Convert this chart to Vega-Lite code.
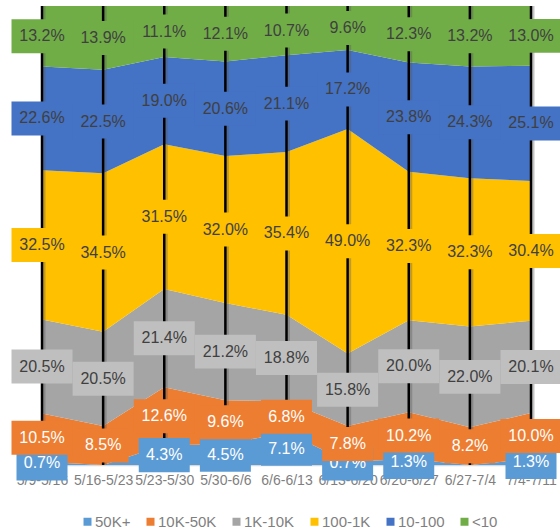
{
  "$schema": "https://vega.github.io/schema/vega-lite/v6.json",
  "autosize": "none",
  "padding": {"left": 42, "top": 6, "right": 29, "bottom": 65},
  "width": 489,
  "height": 459,
  "config": {
    "font": "Liberation Sans",
    "view": {"stroke": null},
    "axis": {"grid": false}
  },
  "data": {
    "values": [
      {"w": "5/9-5/16", "s": "50K+", "v": 0.007}, {"w": "5/9-5/16", "s": "10K-50K", "v": 0.105}, {"w": "5/9-5/16", "s": "1K-10K", "v": 0.205}, {"w": "5/9-5/16", "s": "100-1K", "v": 0.325}, {"w": "5/9-5/16", "s": "10-100", "v": 0.226}, {"w": "5/9-5/16", "s": "<10", "v": 0.132},
      {"w": "5/16-5/23", "s": "50K+", "v": 0}, {"w": "5/16-5/23", "s": "10K-50K", "v": 0.085}, {"w": "5/16-5/23", "s": "1K-10K", "v": 0.205}, {"w": "5/16-5/23", "s": "100-1K", "v": 0.345}, {"w": "5/16-5/23", "s": "10-100", "v": 0.225}, {"w": "5/16-5/23", "s": "<10", "v": 0.139},
      {"w": "5/23-5/30", "s": "50K+", "v": 0.043}, {"w": "5/23-5/30", "s": "10K-50K", "v": 0.126}, {"w": "5/23-5/30", "s": "1K-10K", "v": 0.214}, {"w": "5/23-5/30", "s": "100-1K", "v": 0.315}, {"w": "5/23-5/30", "s": "10-100", "v": 0.19}, {"w": "5/23-5/30", "s": "<10", "v": 0.111},
      {"w": "5/30-6/6", "s": "50K+", "v": 0.045}, {"w": "5/30-6/6", "s": "10K-50K", "v": 0.096}, {"w": "5/30-6/6", "s": "1K-10K", "v": 0.212}, {"w": "5/30-6/6", "s": "100-1K", "v": 0.32}, {"w": "5/30-6/6", "s": "10-100", "v": 0.206}, {"w": "5/30-6/6", "s": "<10", "v": 0.121},
      {"w": "6/6-6/13", "s": "50K+", "v": 0.071}, {"w": "6/6-6/13", "s": "10K-50K", "v": 0.068}, {"w": "6/6-6/13", "s": "1K-10K", "v": 0.188}, {"w": "6/6-6/13", "s": "100-1K", "v": 0.354}, {"w": "6/6-6/13", "s": "10-100", "v": 0.211}, {"w": "6/6-6/13", "s": "<10", "v": 0.107},
      {"w": "6/13-6/20", "s": "50K+", "v": 0.007}, {"w": "6/13-6/20", "s": "10K-50K", "v": 0.078}, {"w": "6/13-6/20", "s": "1K-10K", "v": 0.158}, {"w": "6/13-6/20", "s": "100-1K", "v": 0.49}, {"w": "6/13-6/20", "s": "10-100", "v": 0.172}, {"w": "6/13-6/20", "s": "<10", "v": 0.096},
      {"w": "6/20-6/27", "s": "50K+", "v": 0.013}, {"w": "6/20-6/27", "s": "10K-50K", "v": 0.102}, {"w": "6/20-6/27", "s": "1K-10K", "v": 0.2}, {"w": "6/20-6/27", "s": "100-1K", "v": 0.323}, {"w": "6/20-6/27", "s": "10-100", "v": 0.238}, {"w": "6/20-6/27", "s": "<10", "v": 0.123},
      {"w": "6/27-7/4", "s": "50K+", "v": 0}, {"w": "6/27-7/4", "s": "10K-50K", "v": 0.082}, {"w": "6/27-7/4", "s": "1K-10K", "v": 0.22}, {"w": "6/27-7/4", "s": "100-1K", "v": 0.323}, {"w": "6/27-7/4", "s": "10-100", "v": 0.243}, {"w": "6/27-7/4", "s": "<10", "v": 0.132},
      {"w": "7/4-7/11", "s": "50K+", "v": 0.013}, {"w": "7/4-7/11", "s": "10K-50K", "v": 0.1}, {"w": "7/4-7/11", "s": "1K-10K", "v": 0.201}, {"w": "7/4-7/11", "s": "100-1K", "v": 0.304}, {"w": "7/4-7/11", "s": "10-100", "v": 0.251}, {"w": "7/4-7/11", "s": "<10", "v": 0.13}
    ]
  },
  "transform": [
    {"calculate": "indexof(['50K+','10K-50K','1K-10K','100-1K','10-100','<10'], datum.s)", "as": "k"},
    {"stack": "v", "groupby": ["w"], "sort": [{"field": "k", "order": "ascending"}], "offset": "normalize", "as": ["y0", "y1"]},
    {"calculate": "(datum.y0 + datum.y1) / 2", "as": "ym"}
  ],
  "encoding": {
    "x": {
      "field": "w", "type": "nominal", "sort": null,
      "scale": {"type": "point", "padding": 0},
      "axis": {
        "title": null, "labelAngle": 0, "ticks": false, "labelPadding": 8,
        "labelFontSize": 14, "labelColor": "#7f7f7f", "labelOverlap": false,
        "domainColor": "#d9d9d9", "domainWidth": 1.5, "labelBound": false
      }
    }
  },
  "layer": [
    {
      "mark": {"type": "area", "opacity": 1, "interpolate": "linear"},
      "encoding": {
        "y": {"field": "y0", "type": "quantitative", "stack": null, "scale": {"domain": [0, 1], "nice": false}, "axis": null},
        "y2": {"field": "y1"},
        "color": {
          "field": "s", "type": "nominal",
          "scale": {
            "domain": ["50K+", "10K-50K", "1K-10K", "100-1K", "10-100", "<10"],
            "range": ["#5B9BD5", "#ED7D31", "#A5A5A5", "#FFC000", "#4472C4", "#70AD47"]
          },
          "legend": {
            "orient": "none", "legendX": 38, "legendY": 508, "direction": "horizontal",
            "title": null, "symbolType": "square", "symbolSize": 64, "symbolStrokeWidth": 0,
            "labelFontSize": 15, "labelColor": "#7f7f7f", "labelOffset": 0,
            "columnPadding": 12, "padding": 0
          }
        }
      }
    },
    {
      "transform": [{"filter": "datum.k == 5"}],
      "mark": {"type": "rule", "color": "#555555", "strokeWidth": 3, "opacity": 0.35, "xOffset": 2},
      "encoding": {"y": {"datum": 0, "type": "quantitative"}, "y2": {"datum": 1}}
    },
    {
      "transform": [{"filter": "datum.k == 5"}],
      "mark": {"type": "rule", "color": "#000000", "strokeWidth": 2.5},
      "encoding": {"y": {"datum": 0, "type": "quantitative"}, "y2": {"datum": 1}}
    },
    {
      "transform": [{"filter": "datum.k == 0 && datum.v > 0"}],
      "mark": {"type": "point", "filled": true, "opacity": 1, "strokeWidth": 0, "size": 2601, "shape": "M-1,-0.667L1,-0.667L1,0.667L-1,0.667Z"},
      "encoding": {
        "y": {"field": "ym", "type": "quantitative"},
        "fill": {"field": "s", "type": "nominal", "legend": null,
          "scale": {"domain": ["50K+", "10K-50K", "1K-10K", "100-1K", "10-100", "<10"], "range": ["#5B9BD5", "#ED7D31", "#BFBFBF", "#FFC000", "#4472C4", "#70AD47"]}}
      }
    },
    {
      "transform": [{"filter": "datum.k == 0 && datum.v > 0"}],
      "mark": {"type": "text", "fontSize": 16, "baseline": "middle", "align": "center"},
      "encoding": {
        "y": {"field": "ym", "type": "quantitative"},
        "text": {"field": "v", "type": "quantitative", "format": ".1%"},
        "color": {"value": "#ffffff"}
      }
    },
    {
      "transform": [{"filter": "datum.k > 0 && datum.v >= 0.1"}],
      "mark": {"type": "point", "filled": true, "opacity": 1, "strokeWidth": 0, "size": 3721, "shape": "M-1,-0.557L1,-0.557L1,0.557L-1,0.557Z"},
      "encoding": {
        "y": {"field": "ym", "type": "quantitative"},
        "fill": {"field": "s", "type": "nominal", "legend": null}
      }
    },
    {
      "transform": [{"filter": "datum.k > 0 && datum.v < 0.1 && datum.v > 0"}],
      "mark": {"type": "point", "filled": true, "opacity": 1, "strokeWidth": 0, "size": 2601, "shape": "M-1,-0.667L1,-0.667L1,0.667L-1,0.667Z"},
      "encoding": {
        "y": {"field": "ym", "type": "quantitative"},
        "fill": {"field": "s", "type": "nominal", "legend": null}
      }
    },
    {
      "transform": [{"filter": "datum.k > 0 && datum.v > 0"}],
      "mark": {"type": "text", "fontSize": 16, "baseline": "middle", "align": "center"},
      "encoding": {
        "y": {"field": "ym", "type": "quantitative"},
        "text": {"field": "v", "type": "quantitative", "format": ".1%"},
        "color": {"condition": {"test": "datum.k == 1", "value": "#ffffff"}, "value": "#404040"}
      }
    }
  ]
}
